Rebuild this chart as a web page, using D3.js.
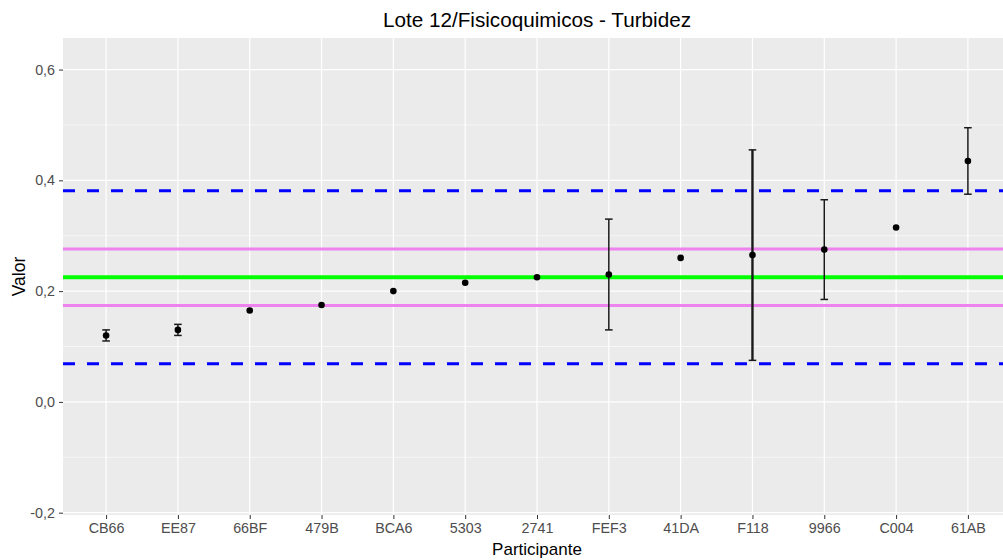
<!DOCTYPE html>
<html><head><meta charset="utf-8">
<script src="https://cdn.jsdelivr.net/npm/d3@7"></script>
<style>body{margin:0;background:#fff}svg{display:block;font-family:"Liberation Sans",Arial,sans-serif}</style>
</head><body><svg id="c" width="1003" height="560"></svg>
<script>
const categories = ["CB66","EE87","66BF","479B","BCA6","5303","2741","FEF3","41DA","F118","9966","C004","61AB"];
const values     = [0.120,0.130,0.165,0.175,0.200,0.215,0.225,0.230,0.260,0.265,0.275,0.315,0.435];
const errors     = [0.010,0.010,null,null,null,null,null,0.100,null,0.190,0.090,null,0.060];
const yTicks     = [-0.2,0,0.2,0.4,0.6];
const yMinor     = [-0.1,0.1,0.3,0.5];
const refCenter  = [0.225];
const refInner   = [0.174,0.276];
const refOuter   = [0.069,0.381];
const title = "Lote 12/Fisicoquimicos - Turbidez";
const xTitle = "Participante";
const yTitle = "Valor";

const svg = d3.select("#c");
const L = 63, R = 1011, T = 38, B = 515;
const y = d3.scaleLinear().domain([-0.2042, 0.657]).range([B, T]);
const xp = d3.scalePoint().domain(categories).range([L, R]).padding(0.6);

svg.append("rect").attr("x",L).attr("y",T).attr("width",R-L).attr("height",B-T).attr("fill","#EBEBEB");
const g = svg.append("g");
g.selectAll(".ymin").data(yMinor).join("line").attr("x1",L).attr("x2",R).attr("y1",d=>y(d)).attr("y2",d=>y(d)).attr("stroke","#fff").attr("stroke-width",0.6);
g.selectAll(".ymaj").data(yTicks).join("line").attr("x1",L).attr("x2",R).attr("y1",d=>y(d)).attr("y2",d=>y(d)).attr("stroke","#fff").attr("stroke-width",1.2);
g.selectAll(".xmaj").data(categories).join("line").attr("x1",d=>xp(d)).attr("x2",d=>xp(d)).attr("y1",T).attr("y2",B).attr("stroke","#fff").attr("stroke-width",1.2);

const hl = (vals, color, w, dash) => g.append("g").selectAll("line").data(vals).join("line")
  .attr("x1",L).attr("x2",R).attr("y1",d=>y(d)).attr("y2",d=>y(d))
  .attr("stroke",color).attr("stroke-width",w).attr("stroke-dasharray",dash||null);
hl(refOuter,"#0000FF",3,"12,12");
hl(refInner,"#EE82EE",3);
hl(refCenter,"#00FF00",4);

const eb = categories.map((c,i)=>({c, v:values[i], e:errors[i]})).filter(d=>d.e!=null);
const ge = g.append("g").attr("stroke","#1a1a1a").attr("stroke-width",1.5);
ge.selectAll(".v").data(eb).join("line").attr("x1",d=>xp(d.c)).attr("x2",d=>xp(d.c)).attr("y1",d=>y(d.v-d.e)).attr("y2",d=>y(d.v+d.e)).attr("stroke-width",d=>d.e>0.15?2.4:1.5);
ge.selectAll(".t").data(eb).join("line").attr("x1",d=>xp(d.c)-3.8).attr("x2",d=>xp(d.c)+3.8).attr("y1",d=>y(d.v+d.e)).attr("y2",d=>y(d.v+d.e));
ge.selectAll(".b").data(eb).join("line").attr("x1",d=>xp(d.c)-3.8).attr("x2",d=>xp(d.c)+3.8).attr("y1",d=>y(d.v-d.e)).attr("y2",d=>y(d.v-d.e));

g.selectAll("circle").data(categories).join("circle").attr("cx",d=>xp(d)).attr("cy",(d,i)=>y(values[i])).attr("r",3.3).attr("fill","#000");

// axes
const fmt = d => d3.format(".1f")(d).replace(".",",").replace("−","-");
const ya = svg.append("g").attr("transform",`translate(${L},0)`).call(d3.axisLeft(y).tickValues(yTicks).tickFormat(fmt).tickSize(4).tickPadding(4));
ya.select(".domain").remove();
ya.selectAll("line").attr("stroke","#333").attr("stroke-width",1);
ya.selectAll("text").attr("fill","#4D4D4D").attr("font-size",14.3).attr("font-family","Liberation Sans, Arial, sans-serif");
const xa = svg.append("g").attr("transform",`translate(0,${B})`).call(d3.axisBottom(xp).tickSize(4).tickPadding(4));
xa.select(".domain").remove();
xa.selectAll("line").attr("stroke","#333").attr("stroke-width",1);
xa.selectAll("text").attr("fill","#4D4D4D").attr("font-size",14.3).attr("font-family","Liberation Sans, Arial, sans-serif");

svg.append("text").attr("x",(L+R)/2).attr("y",27).attr("text-anchor","middle").attr("font-size",20.7).attr("fill","#000").text(title);
svg.append("text").attr("x",(L+R)/2).attr("y",555).attr("text-anchor","middle").attr("font-size",17).attr("fill","#000").text(xTitle);
svg.append("text").attr("transform",`translate(25,${(T+B)/2}) rotate(-90)`).attr("text-anchor","middle").attr("font-size",17.5).attr("fill","#000").text(yTitle);
</script></body></html>
